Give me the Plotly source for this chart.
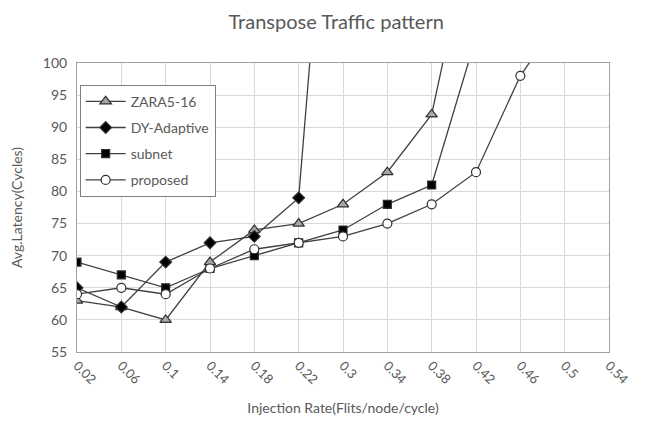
import plotly.graph_objects as go

categories = ["0.02", "0.06", "0.1", "0.14", "0.18", "0.22", "0.3", "0.34", "0.38", "0.42", "0.46", "0.5", "0.54"]
zara = [63, 62, 60, 69, 74, 75, 78, 83, 92, 124]
dy = [65, 62, 69, 72, 73, 79, 163]
subnet = [69, 67, 65, 68, 70, 72, 74, 78, 81, 104]
proposed = [64, 65, 64, 68, 71, 72, 73, 75, 78, 83, 98, 108]
y_ticks = [55, 60, 65, 70, 75, 80, 85, 90, 95, 100]

FONT = "Lato, 'Open Sans', sans-serif"
LINE = "#404040"

fig = go.Figure()

def add(name, vals, symbol, fill, size):
    fig.add_trace(go.Scatter(
        x=list(range(len(vals))), y=vals, name=name, mode="lines+markers",
        legendgroup=name,
        line=dict(color=LINE, width=1.3),
        marker=dict(symbol=symbol, size=size, color=fill, line=dict(color="#303030", width=1.2)),
        cliponaxis=True,
    ))

add("ZARA5-16", zara, "triangle-up", "#a6a6a6", 10)
add("DY-Adaptive", dy, "diamond", "#000000", 9)
add("subnet", subnet, "square", "#000000", 8)
add("proposed", proposed, "circle", "#ffffff", 9)

fig.update_layout(
    width=649, height=425,
    margin=dict(l=77, r=40, t=63, b=71),
    paper_bgcolor="white", plot_bgcolor="white",
    font=dict(family=FONT, color="#595959", size=13),
    title=dict(text="Transpose Traffic pattern", x=0.518, xanchor="center", y=0.948, yanchor="middle",
               font=dict(size=20, color="#595959", family=FONT)),
    showlegend=True,
    legend=dict(x=0.005, y=0.925, xanchor="left", yanchor="top",
                bordercolor="#7f7f7f", borderwidth=1, bgcolor="white",
                font=dict(size=14, color="#595959"), tracegroupgap=5, itemwidth=40),
)
fig.update_xaxes(
    range=[0, 12], tickmode="array", tickvals=list(range(len(categories))), ticktext=categories,
    tickangle=45, showgrid=True, gridcolor="#d9d9d9", gridwidth=1,
    showline=True, linecolor="#a0a0a0", linewidth=1, mirror=True, zeroline=False,
    ticks="", tickfont=dict(size=13, color="#595959"),
    title=dict(text="Injection Rate(Flits/node/cycle)", font=dict(size=14, color="#595959"), standoff=16),
)
fig.update_yaxes(
    range=[55, 100], tickmode="array", tickvals=y_ticks,
    showgrid=True, gridcolor="#d9d9d9", gridwidth=1,
    showline=True, linecolor="#a0a0a0", linewidth=1, mirror=True, zeroline=False,
    ticks="", ticklabelstandoff=6, tickfont=dict(size=14, color="#595959"),
    title=dict(text="Avg.Latency(Cycles)", font=dict(size=14, color="#595959"), standoff=16),
)

fig.write_html("out.html")
